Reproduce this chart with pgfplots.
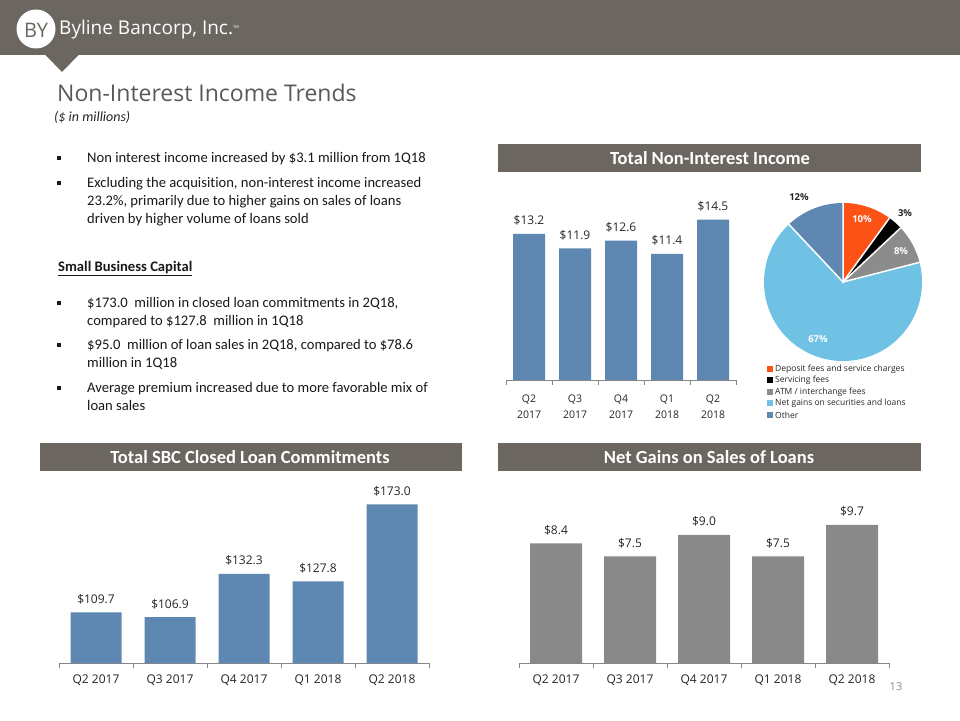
\documentclass[border=0pt]{standalone}
\usepackage{pgfplots}
\pgfplotsset{compat=1.18}
\usepackage{fontspec}
\setmainfont{Carlito}[Ligatures=NoCommon]
\newfontfamily\osans{Open Sans}
\definecolor{hdr}{RGB}{107,103,96}
\definecolor{barblue}{RGB}{94,136,178}
\definecolor{bargray}{RGB}{137,137,137}
\definecolor{pieorange}{RGB}{252,82,22}
\definecolor{pielight}{RGB}{112,194,228}
\definecolor{piegray}{RGB}{140,140,140}
\definecolor{titlegray}{RGB}{89,89,89}
\definecolor{axgray}{RGB}{134,134,134}
\definecolor{txt}{RGB}{38,38,38}
\pgfplotsset{
  slidebar/.style={
    scale only axis,
    ybar,
    axis x line*=bottom,
    axis y line=none,
    xmin=-0.5, xmax=4.5,
    xtick={0,1,2,3,4},
    major tick length=0pt,
    minor xtick={-0.5,0.5,1.5,2.5,3.5,4.5},
    minor tick length=5pt,
    tick align=outside,
    tick style={axgray, line width=0.8pt},
    axis line style={axgray, line width=0.8pt},
    xticklabel style={font=\osans\fontsize{12}{14}\selectfont, text=txt, yshift=-8pt},
    clip=false,
    point meta=y,
    nodes near coords={\$\pgfmathprintnumber[fixed,fixed zerofill,precision=1,assume math mode=true]{\pgfplotspointmeta}},
    every node near coord/.append style={font=\osans\fontsize{12}{14}\selectfont, text=txt, anchor=base, yshift=9pt, inner sep=0pt},
  }
}
\begin{document}
\begin{tikzpicture}[x=1pt,y=1pt]
\path[use as bounding box, fill=white] (0,0) rectangle (960,720);
% header
\fill[hdr] (0,665) rectangle (960,720);
\fill[hdr] (45,665.5) -- (79,665.5) -- (62,648) -- cycle;
\fill[white] (36,691) circle (19.5);
\node[anchor=center, text=hdr, font=\osans\fontsize{20}{20}\selectfont, inner sep=0pt] at (36,690) {BY};
\node[anchor=base west, text=white, font=\osans\fontsize{19}{20}\selectfont, inner sep=0pt] at (59,685) {Byline Bancorp, Inc.\raisebox{6pt}{\fontsize{4}{4}\selectfont TM}};
% title
\node[anchor=base west, text=titlegray, font=\osans\fontsize{23}{26}\selectfont, inner sep=0pt] at (57,618) {Non-Interest Income Trends};
\node[anchor=base west, text=txt, font=\itshape\fontsize{14}{16}\selectfont, inner sep=0pt] at (54,598) {(\$ in millions)};
% bullets
\begin{scope}[every node/.style={anchor=base west, inner sep=0pt, text=black!90, font=\fontsize{14.6}{18}\selectfont}]
\foreach \yb in {557,532,412,370,327} {\fill[black!90] (57,\yb+2.5) rectangle (61,\yb+6.5);}
\node at (87,557) {Non interest income increased by \$3.1 million from 1Q18};
\node at (87,532) {Excluding the acquisition, non-interest income increased};
\node at (87,514) {23.2\%, primarily due to higher gains on sales of loans};
\node at (87,496) {driven by higher volume of loans sold};
\node[font=\bfseries\fontsize{14.6}{18}\selectfont] at (58,448) {\underline{Small Business Capital}};
\node at (87,412) {\$173.0\ \ million in closed loan commitments in 2Q18,};
\node at (87,394) {compared to \$127.8\ \ million in 1Q18};
\node at (87,370) {\$95.0\ \ million of loan sales in 2Q18, compared to \$78.6};
\node at (87,352) {million in 1Q18};
\node at (87,327) {Average premium increased due to more favorable mix of};
\node at (87,309) {loan sales};
\end{scope}
% section headers
\fill[hdr] (498,548) rectangle (921,576);
\node[text=white, font=\bfseries\fontsize{18.5}{20}\selectfont] at (710,562) {Total Non-Interest Income};
\fill[hdr] (40,249) rectangle (462,277);
\node[text=white, font=\bfseries\fontsize{18.5}{20}\selectfont] at (250,263) {Total SBC Closed Loan Commitments};
\fill[hdr] (498,249) rectangle (921,277);
\node[text=white, font=\bfseries\fontsize{18.5}{20}\selectfont] at (709,263) {Net Gains on Sales of Loans};
% top bar chart
\begin{axis}[slidebar, at={(506pt,340pt)}, anchor=south west, width=230pt, height=177pt,
  ymin=0, ymax=16, bar width=32pt,
  xticklabels={{Q2\\2017},{Q3\\2017},{Q4\\2017},{Q1\\2018},{Q2\\2018}},
  xticklabel style={align=center, font=\osans\fontsize{10.5}{16}\selectfont, yshift=-3pt}]
\addplot[fill=barblue, draw=none] coordinates {(0,13.2) (1,11.9) (2,12.6) (3,11.4) (4,14.5)};
\end{axis}
% pie
\begin{axis}[hide axis, scale only axis, width=158pt, height=158pt, xmin=-1, xmax=1, ymin=-1, ymax=1,
  at={(843pt,438pt)}, anchor=center, clip=false]
\fill[pieorange] (axis cs:0,0) -- (axis cs:{cos(90)},{sin(90)}) arc[start angle=90, end angle={90-3.6*10}, radius=79pt] -- cycle;
\fill[black] (axis cs:0,0) -- (axis cs:{cos(90-3.6*10)},{sin(90-3.6*10)}) arc[start angle={90-3.6*10}, end angle={90-3.6*13}, radius=79pt] -- cycle;
\fill[piegray] (axis cs:0,0) -- (axis cs:{cos(90-3.6*13)},{sin(90-3.6*13)}) arc[start angle={90-3.6*13}, end angle={90-3.6*21}, radius=79pt] -- cycle;
\fill[pielight] (axis cs:0,0) -- (axis cs:{cos(90-3.6*21)},{sin(90-3.6*21)}) arc[start angle={90-3.6*21}, end angle={90-3.6*88}, radius=79pt] -- cycle;
\fill[barblue] (axis cs:0,0) -- (axis cs:{cos(90-3.6*88)},{sin(90-3.6*88)}) arc[start angle={90-3.6*88}, end angle={90-3.6*100}, radius=79pt] -- cycle;
\draw[white, line width=1.5pt] (axis cs:{cos(90)},{sin(90)}) -- (axis cs:0,0) -- (axis cs:{cos(90-3.6*10)},{sin(90-3.6*10)});
\draw[white, line width=1.5pt] (axis cs:0,0) -- (axis cs:{cos(90-3.6*13)},{sin(90-3.6*13)});
\draw[white, line width=1.5pt] (axis cs:0,0) -- (axis cs:{cos(90-3.6*21)},{sin(90-3.6*21)});
\draw[white, line width=1.5pt] (axis cs:0,0) -- (axis cs:{cos(90-3.6*88)},{sin(90-3.6*88)});
\end{axis}
\begin{scope}[every node/.style={font=\osans\bfseries\fontsize{9.5}{11}\selectfont, inner sep=0pt}]
\node[text=txt] at (799,523) {12\%};
\node[text=white] at (862,501) {10\%};
\node[text=txt] at (905,507) {3\%};
\node[text=white] at (901,469) {8\%};
\node[text=white] at (818,381) {67\%};
\end{scope}
% pie legend
\begin{scope}[every node/.style={anchor=west, font=\osans\fontsize{8.5}{10}\selectfont, inner sep=0pt, text=txt}]
\fill[pieorange] (767,348) rectangle (773,354); \node at (775,351) {Deposit fees and service charges};
\fill[black] (767,337) rectangle (773,343); \node at (775,340) {Servicing fees};
\fill[piegray] (767,325) rectangle (773,331); \node at (775,328) {ATM / interchange fees};
\fill[pielight] (767,314) rectangle (773,320); \node at (775,317) {Net gains on securities and loans};
\fill[barblue] (767,302) rectangle (773,308); \node at (775,305) {Other};
\end{scope}
% bottom left
\begin{axis}[slidebar, at={(59pt,57pt)}, anchor=south west, width=370pt, height=170.6pt,
  ymin=80, ymax=180, bar width=51pt,
  xticklabels={Q2 2017,Q3 2017,Q4 2017,Q1 2018,Q2 2018}]
\addplot[fill=barblue, draw=none] coordinates {(0,109.7) (1,106.9) (2,132.3) (3,127.8) (4,173.0)};
\end{axis}
% bottom right
\begin{axis}[slidebar, at={(519pt,57pt)}, anchor=south west, width=370pt, height=170.8pt,
  ymin=0, ymax=12, bar width=52pt,
  xticklabels={Q2 2017,Q3 2017,Q4 2017,Q1 2018,Q2 2018}]
\addplot[fill=bargray, draw=none] coordinates {(0,8.4) (1,7.5) (2,9.0) (3,7.5) (4,9.7)};
\end{axis}
\node[text=black!45, font=\osans\fontsize{11}{12}\selectfont] at (896,33) {13};
\end{tikzpicture}
\end{document}
